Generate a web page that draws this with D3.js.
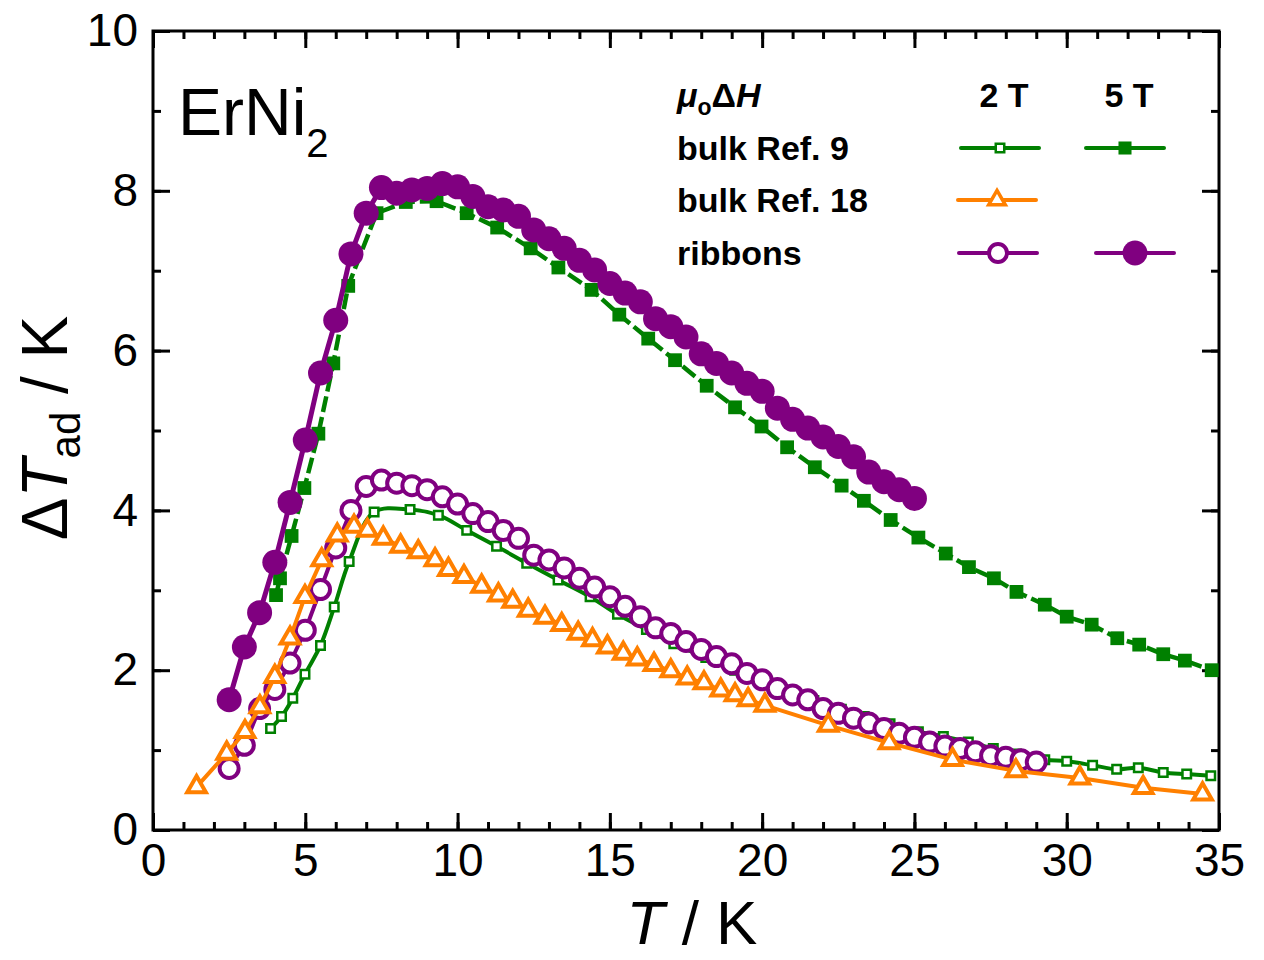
<!DOCTYPE html>
<html>
<head>
<meta charset="utf-8">
<script src="https://cdn.jsdelivr.net/npm/d3@7"></script>
<style>
  body { margin: 0; background: #fff; }
  svg { display: block; font-family: "Liberation Sans", Arial, sans-serif; }
</style>
</head>
<body>
<div id="chart"></div>
<script>
// axis ticks
const xTicks = [0, 5, 10, 15, 20, 25, 30, 35];
const yTicks = [0, 2, 4, 6, 8, 10];

// bulk Ref. 9, 2 T (open squares)
const bulk9T2_T = [3.86, 4.22, 4.59, 4.99, 5.5, 5.95, 6.44, 7.26, 8.44, 9.37, 10.3, 11.28, 12.27, 13.3, 14.35, 15.25, 16.2, 17.1, 18.15, 19.1, 20.0, 20.85, 21.7, 22.6, 23.35, 24.2, 25.13, 25.95, 26.77, 27.59, 28.35, 29.28, 30.0, 30.85, 31.64, 32.35, 33.17, 33.94, 34.73];
const bulk9T2_dT = [1.27, 1.42, 1.65, 1.95, 2.31, 2.79, 3.36, 3.98, 4.01, 3.94, 3.75, 3.55, 3.34, 3.13, 2.92, 2.70, 2.51, 2.33, 2.16, 2.00, 1.86, 1.74, 1.62, 1.51, 1.42, 1.33, 1.23, 1.17, 1.10, 1.02, 0.95, 0.88, 0.86, 0.81, 0.76, 0.78, 0.72, 0.70, 0.68];

// bulk Ref. 9, 5 T (filled squares)
const bulk9T5_T = [4.04, 4.17, 4.55, 4.97, 5.43, 5.92, 6.41, 7.34, 8.3, 9.31, 10.3, 11.3, 12.4, 13.31, 14.40, 15.31, 16.26, 17.14, 18.18, 19.11, 19.98, 20.82, 21.73, 22.61, 23.34, 24.22, 25.13, 26.03, 26.79, 27.61, 28.35, 29.28, 30.0, 30.82, 31.66, 32.38, 33.17, 33.88, 34.76];
const bulk9T5_dT = [2.94, 3.15, 3.68, 4.28, 4.96, 5.84, 6.81, 7.72, 7.86, 7.87, 7.72, 7.54, 7.28, 7.04, 6.76, 6.45, 6.15, 5.88, 5.56, 5.29, 5.05, 4.79, 4.54, 4.31, 4.12, 3.88, 3.66, 3.46, 3.29, 3.15, 2.98, 2.82, 2.67, 2.57, 2.40, 2.32, 2.20, 2.12, 2.00];

// bulk Ref. 18, 2 T (open triangles)
const bulk18_T = [1.43, 2.42, 3.02, 3.51, 4.0, 4.5, 4.99, 5.54, 6.05, 6.6, 7.04, 7.56, 8.13, 8.71, 9.26, 9.7, 10.21, 10.79, 11.34, 11.81, 12.32, 12.87, 13.42, 13.96, 14.43, 14.92, 15.44, 15.9, 16.45, 17.0, 17.54, 18.09, 18.64, 19.11, 19.54, 20.09, 22.17, 24.17, 26.25, 28.33, 30.43, 32.51, 34.46];
const bulk18_dT = [0.54, 0.96, 1.23, 1.54, 1.92, 2.40, 2.92, 3.38, 3.69, 3.80, 3.75, 3.65, 3.55, 3.48, 3.38, 3.26, 3.17, 3.05, 2.94, 2.86, 2.75, 2.66, 2.57, 2.46, 2.38, 2.29, 2.21, 2.14, 2.07, 1.99, 1.90, 1.84, 1.75, 1.69, 1.63, 1.56, 1.31, 1.09, 0.88, 0.74, 0.65, 0.53, 0.45];

// ribbons, 2 T (open circles)
const ribT2_T = [2.5, 3.0, 3.5, 4.0, 4.5, 5.0, 5.5, 6.0, 6.5, 7.0, 7.5, 8.0, 8.5, 9.0, 9.5, 10.0, 10.5, 11.0, 11.5, 12.0, 12.5, 13.0, 13.5, 14.0, 14.5, 15.0, 15.5, 16.0, 16.5, 17.0, 17.5, 18.0, 18.5, 19.0, 19.5, 20.0, 20.5, 21.0, 21.5, 22.0, 22.5, 23.0, 23.5, 24.0, 24.5, 25.0, 25.5, 26.0, 26.5, 27.0, 27.5, 28.0, 28.5, 29.0];
const ribT2_dT = [0.77, 1.06, 1.52, 1.76, 2.09, 2.50, 3.01, 3.53, 4.00, 4.30, 4.38, 4.34, 4.31, 4.26, 4.17, 4.08, 3.96, 3.86, 3.75, 3.65, 3.44, 3.38, 3.28, 3.15, 3.04, 2.92, 2.80, 2.67, 2.53, 2.46, 2.36, 2.26, 2.17, 2.08, 1.96, 1.88, 1.77, 1.69, 1.63, 1.52, 1.46, 1.40, 1.34, 1.27, 1.21, 1.16, 1.10, 1.05, 1.02, 0.98, 0.93, 0.91, 0.88, 0.85];

// ribbons, 5 T (filled circles)
const ribT5_T = [2.5, 3.0, 3.5, 4.0, 4.5, 5.0, 5.5, 6.0, 6.5, 7.0, 7.5, 8.0, 8.5, 9.0, 9.5, 10.0, 10.5, 11.0, 11.5, 12.0, 12.5, 13.0, 13.5, 14.0, 14.5, 15.0, 15.5, 16.0, 16.5, 17.0, 17.5, 18.0, 18.5, 19.0, 19.5, 20.0, 20.5, 21.0, 21.5, 22.0, 22.5, 23.0, 23.5, 24.0, 24.5, 25.0];
const ribT5_dT = [1.63, 2.29, 2.72, 3.35, 4.10, 4.88, 5.72, 6.38, 7.21, 7.72, 8.04, 7.97, 8.01, 8.03, 8.09, 8.05, 7.93, 7.80, 7.76, 7.68, 7.51, 7.40, 7.28, 7.13, 7.01, 6.84, 6.72, 6.61, 6.40, 6.30, 6.17, 5.96, 5.84, 5.72, 5.59, 5.49, 5.28, 5.14, 5.03, 4.92, 4.80, 4.67, 4.48, 4.36, 4.26, 4.15];

const green = '#008000';
const orange = '#ff8000';
const purple = '#800080';

const width = 1264;
const height = 960;

const svg = d3.select('#chart')
  .append('svg')
  .attr('width', width)
  .attr('height', height);

const x = d3.scaleLinear().domain([0, 35]).range([153, 1219]);
const y = d3.scaleLinear().domain([0, 10]).range([830, 31]);

const zip = (a, b) => a.map((t, i) => [t, b[i]]);

// ---- axes (ticks point inward on all four sides)
function styleAxis(g) {
  g.select('.domain').remove();
  g.selectAll('line').attr('stroke', '#000').attr('stroke-width', 3);
  g.selectAll('text').attr('fill', '#000').attr('font-size', 46);
}

const minorX = d3.range(0, 36, 1);
const minorY = d3.range(0, 10.5, 1);

svg.append('g').attr('transform', `translate(0,${y(0)})`)
  .call(d3.axisBottom(x).tickValues(minorX).tickSize(-8).tickFormat(''))
  .call(styleAxis);
svg.append('g').attr('transform', `translate(0,${y(0)})`)
  .call(d3.axisBottom(x).tickValues(xTicks).tickSize(-17).tickPadding(13).tickFormat(d3.format('d')))
  .call(styleAxis);
svg.append('g').attr('transform', `translate(0,${y(10)})`)
  .call(d3.axisTop(x).tickValues(minorX).tickSize(-8).tickFormat(''))
  .call(styleAxis);
svg.append('g').attr('transform', `translate(0,${y(10)})`)
  .call(d3.axisTop(x).tickValues(xTicks).tickSize(-17).tickFormat(''))
  .call(styleAxis);

svg.append('g').attr('transform', `translate(${x(0)},0)`)
  .call(d3.axisLeft(y).tickValues(minorY).tickSize(-8).tickFormat(''))
  .call(styleAxis);
svg.append('g').attr('transform', `translate(${x(0)},0)`)
  .call(d3.axisLeft(y).tickValues(yTicks).tickSize(-17).tickPadding(15).tickFormat(d3.format('d')))
  .call(styleAxis);
svg.append('g').attr('transform', `translate(${x(35)},0)`)
  .call(d3.axisRight(y).tickValues(minorY).tickSize(-8).tickFormat(''))
  .call(styleAxis);
svg.append('g').attr('transform', `translate(${x(35)},0)`)
  .call(d3.axisRight(y).tickValues(yTicks).tickSize(-17).tickFormat(''))
  .call(styleAxis);

// frame
svg.append('rect')
  .attr('x', x(0)).attr('y', y(10))
  .attr('width', x(35) - x(0)).attr('height', y(0) - y(10))
  .attr('fill', 'none').attr('stroke', '#000').attr('stroke-width', 3);

// ---- axis titles
svg.append('text')
  .attr('x', 692).attr('y', 944)
  .attr('text-anchor', 'middle')
  .attr('font-size', 62)
  .call(t => {
    t.append('tspan').attr('font-style', 'italic').text('T');
    t.append('tspan').text(' / K');
  });

svg.append('text')
  .attr('transform', 'translate(67,428) rotate(-90)')
  .attr('text-anchor', 'middle')
  .attr('font-size', 64)
  .call(t => {
    t.append('tspan').text('Δ');
    t.append('tspan').attr('font-style', 'italic').text('T');
    t.append('tspan').attr('font-size', 42).attr('dy', 13).text('ad');
    t.append('tspan').attr('dy', -13).text(' / K');
  });

// compound label
svg.append('text')
  .attr('x', 178).attr('y', 135)
  .attr('font-size', 66)
  .call(t => {
    t.append('tspan').text('ErNi');
    t.append('tspan').attr('font-size', 40).attr('dy', 22).text('2');
  });

// ---- series
const line = d3.line().x(d => x(d[0])).y(d => y(d[1]));
const smooth = d3.line().x(d => x(d[0])).y(d => y(d[1])).curve(d3.curveCatmullRom.alpha(0.5));

const plot = svg.append('g');

function drawLine(data, gen, color, dash, sw) {
  plot.append('path')
    .datum(data)
    .attr('d', gen)
    .attr('fill', 'none')
    .attr('stroke', color)
    .attr('stroke-width', sw || 4)
    .attr('stroke-linejoin', 'round')
    .attr('stroke-dasharray', dash || null);
}

function drawSymbols(data, type, size, fill, stroke, sw) {
  plot.append('g')
    .selectAll('path')
    .data(data)
    .enter()
    .append('path')
    .attr('transform', d => `translate(${x(d[0])},${y(d[1])})`)
    .attr('d', d3.symbol().type(type).size(size))
    .attr('fill', fill)
    .attr('stroke', stroke)
    .attr('stroke-width', sw);
}

const bulk9T2 = zip(bulk9T2_T, bulk9T2_dT);
const bulk9T5 = zip(bulk9T5_T, bulk9T5_dT);
const bulk18 = zip(bulk18_T, bulk18_dT);
const ribT2 = zip(ribT2_T, ribT2_dT);
const ribT5 = zip(ribT5_T, ribT5_dT);

drawLine(bulk9T2, smooth, green);
drawSymbols(bulk9T2, d3.symbolSquare, 72, '#fff', green, 2.5);

drawLine(bulk9T5, line, green, '16,5', 4.5);
drawSymbols(bulk9T5, d3.symbolSquare, 190, green, 'none', 0);

drawLine(ribT2, line, purple);
drawSymbols(ribT2, d3.symbolCircle, Math.PI * 9.5 * 9.5, '#fff', purple, 4);

drawLine(bulk18, line, orange);
drawSymbols(bulk18, d3.symbolTriangle, 150, '#fff', orange, 4);

drawLine(ribT5, line, purple, null, 5);
drawSymbols(ribT5, d3.symbolCircle, Math.PI * 12.5 * 12.5, purple, 'none', 0);

// ---- legend
const legend = svg.append('g')
  .attr('font-size', 34)
  .attr('font-weight', 'bold');

legend.append('text')
  .attr('x', 677).attr('y', 107)
  .call(t => {
    t.append('tspan').attr('font-style', 'italic').text('μ');
    t.append('tspan').attr('font-size', 23).attr('dy', 8).text('o');
    t.append('tspan').attr('dy', -8).text('Δ');
    t.append('tspan').attr('font-style', 'italic').text('H');
  });
legend.append('text').attr('x', 1004).attr('y', 107).attr('text-anchor', 'middle').text('2 T');
legend.append('text').attr('x', 1129).attr('y', 107).attr('text-anchor', 'middle').text('5 T');

const rowLabels = ['bulk Ref. 9', 'bulk Ref. 18', 'ribbons'];
const rowY = [148, 200, 253];
legend.selectAll('text.row')
  .data(rowLabels)
  .enter()
  .append('text')
  .attr('class', 'row')
  .attr('x', 677)
  .attr('y', (d, i) => rowY[i] + 12)
  .text(d => d);

function legendSample(cx, cy, color, type, size, fill, sw) {
  legend.append('line')
    .attr('x1', cx - 39).attr('x2', cx + 39)
    .attr('y1', cy).attr('y2', cy)
    .attr('stroke', color).attr('stroke-width', 4).attr('stroke-linecap', 'round');
  legend.append('path')
    .attr('transform', `translate(${cx},${cy})`)
    .attr('d', d3.symbol().type(type).size(size))
    .attr('fill', fill)
    .attr('stroke', sw ? color : 'none')
    .attr('stroke-width', sw);
}

legendSample(1000, rowY[0], green, d3.symbolSquare, 72, '#fff', 2.5);
legendSample(1125, rowY[0], green, d3.symbolSquare, 170, green, 0);
legendSample(997, rowY[1], orange, d3.symbolTriangle, 120, '#fff', 3.5);
legendSample(998, rowY[2], purple, d3.symbolCircle, Math.PI * 9 * 9, '#fff', 4);
legendSample(1135, rowY[2], purple, d3.symbolCircle, Math.PI * 12.5 * 12.5, purple, 0);
</script>
</body>
</html>
